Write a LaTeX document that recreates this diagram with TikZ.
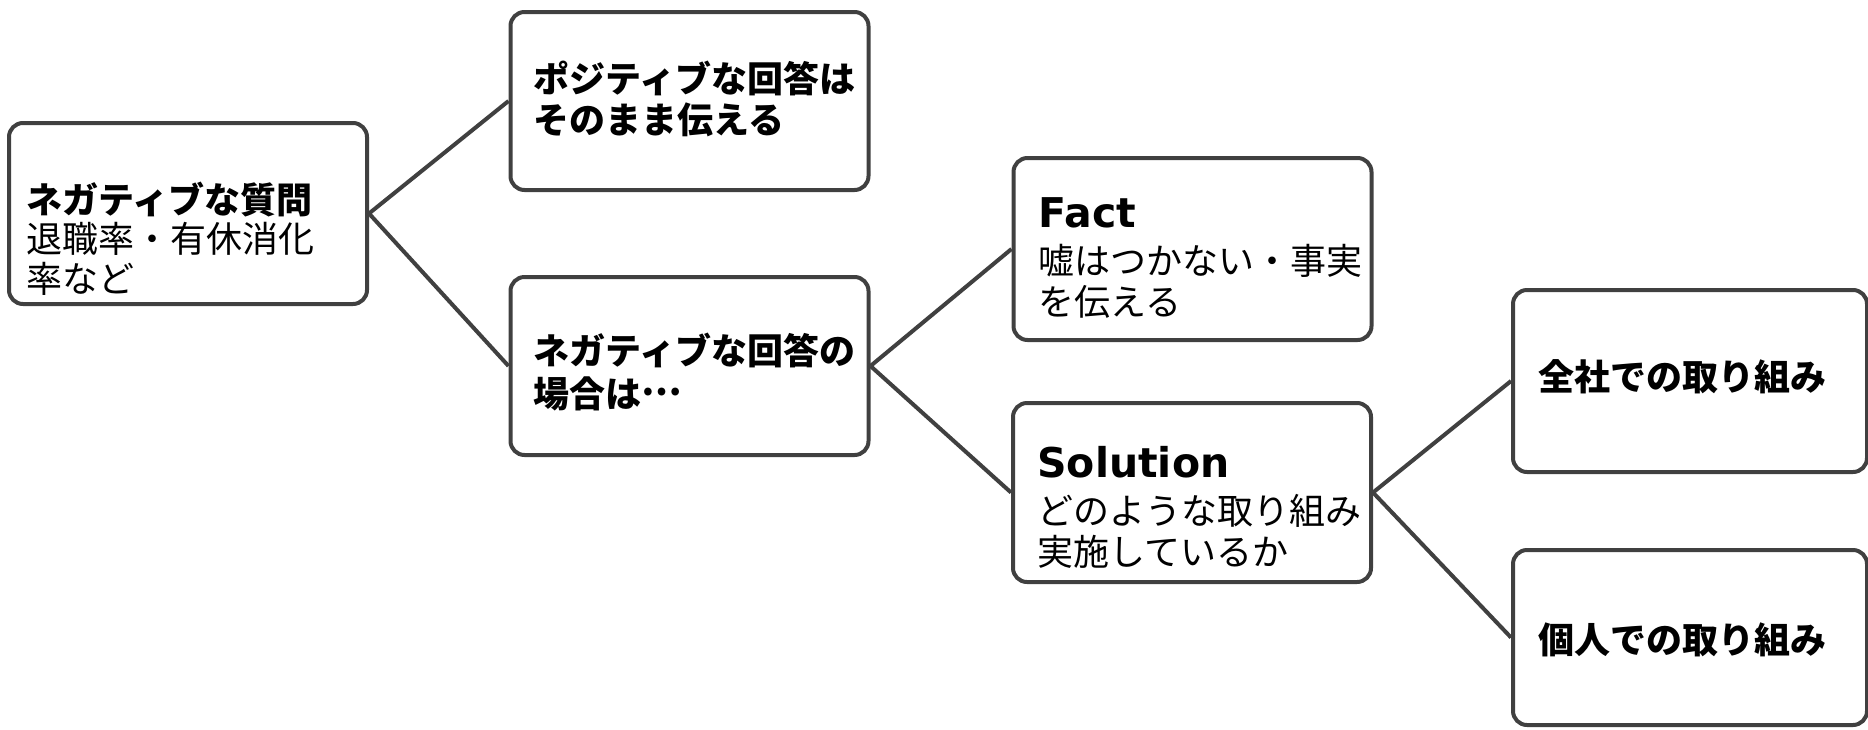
\documentclass[tikz,border=0pt]{standalone}
\usepackage{fontspec}
\setmainfont{Noto Sans CJK JP}
\newfontfamily\latinfont{DejaVu Sans}
\definecolor{linegray}{HTML}{404040}
\begin{document}
\begin{tikzpicture}[x=0.5pt,y=-0.5pt,
  box/.style={draw=linegray, line width=2pt, rounded corners=7pt, fill=white,
    inner sep=0pt, minimum width=179pt, minimum height=90pt},
  txt/.style={anchor=west, align=left, inner sep=0pt, text=black,
    font=\fontsize{18}{20.5}\selectfont},
  conn/.style={draw=linegray, line width=2pt}]
\useasboundingbox (0,0) rectangle (1868,729);
% boxes
\node[box, minimum height=90.5pt] (root) at (188,213.5) {};
\node[box, minimum height=89pt] (pos) at (689.5,101) {};
\node[box, minimum height=89pt] (neg) at (689.5,366) {};
\node[box, minimum height=91pt] (fact) at (1192.5,249) {};
\node[box, minimum height=89.5pt] (sol) at (1192,492.5) {};
\node[box, minimum width=177pt, minimum height=91pt] (zen) at (1690,381) {};
\node[box, minimum width=177pt, minimum height=87.5pt] (kojin) at (1690,637.5) {};
% connectors
\draw[conn] (root.east) -- (pos.west);
\draw[conn] (root.east) -- (neg.west);
\draw[conn] (neg.east) -- (fact.west);
\draw[conn] (neg.east) -- (sol.west);
\draw[conn] (sol.east) -- (zen.west);
\draw[conn] (sol.east) -- (kojin.west);
% texts
\node[txt, font=\fontsize{18}{19.8}\selectfont] (roott) at ([xshift=9.5pt,yshift=-12.5pt]root.west)
  {\textbf{ネガティブな質問}\\退職率・有休消化\\率など};
\node[txt] (post) at ([xshift=12.5pt,yshift=1pt]pos.west)
  {\textbf{ポジティブな回答は}\\\textbf{そのまま伝える}};
\node[txt, font=\fontsize{18}{21.5}\selectfont] (negt) at ([xshift=12.5pt,yshift=-3pt]neg.west)
  {\textbf{ネガティブな回答の}\\\textbf{場合は\smash{\raisebox{0.33em}{…}}}};
\node[txt] (factt) at ([xshift=13.5pt,yshift=-4.5pt]fact.west)
  {{\latinfont\bfseries\fontsize{20.5}{24}\selectfont Fact}\\[3pt]嘘はつかない・事実\\を伝える};
\node[txt] (solt) at ([xshift=13pt,yshift=-7.5pt]sol.west)
  {{\latinfont\bfseries\fontsize{20.5}{24}\selectfont Solution}\\[3pt]どのような取り組み\\実施しているか};
\node[txt] (zent) at ([xshift=13.5pt,yshift=2pt]zen.west)
  {\textbf{全社での取り組み}};
\node[txt] (kojint) at ([xshift=13.5pt,yshift=-1pt]kojin.west)
  {\textbf{個人での取り組み}};
\end{tikzpicture}
\end{document}
